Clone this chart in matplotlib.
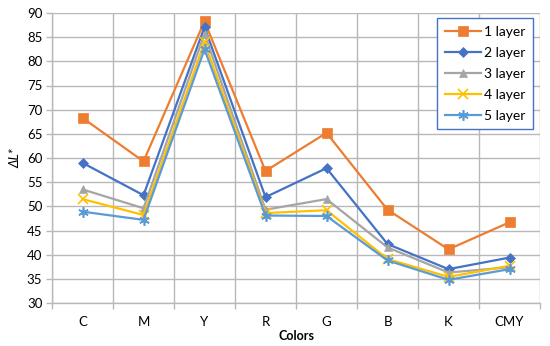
import matplotlib
matplotlib.use("Agg")
import matplotlib.pyplot as plt
import numpy as np

categories = ["C", "M", "Y", "R", "G", "B", "K", "CMY"]
layer1 = [68.3, 59.3, 88.3, 57.3, 65.2, 49.3, 41.1, 46.7]
layer2 = [59.0, 52.3, 87.1, 51.9, 57.9, 42.2, 37.0, 39.4]
layer3 = [53.5, 49.6, 85.7, 49.3, 51.5, 41.5, 36.3, 37.4]
layer4 = [51.5, 48.2, 83.9, 48.6, 49.2, 39.1, 35.4, 37.7]
layer5 = [48.9, 47.2, 82.5, 48.1, 48.0, 38.8, 34.8, 37.0]
labels = ["1 layer", "2 layer", "3 layer", "4 layer", "5 layer"]

plt.rcParams['font.family'] = ['Lato', 'DejaVu Sans']

fig = plt.figure(figsize=(5.5, 3.46), dpi=100)
ax = fig.add_axes([52/550, 1-303/346, (540-52)/550, (303-13)/346])

x = np.arange(len(categories))
series = [layer1, layer2, layer3, layer4, layer5]
colors = ["#ED7D31", "#4472C4", "#A5A5A5", "#FFC000", "#5B9BD5"]
markers = ["s", "D", "^", "x", (6, 2, 0)]
msizes = [6.5, 5, 6, 7, 7.5]
for s, c, m, ms, lab in zip(series, colors, markers, msizes, labels):
    ax.plot(x, s, color=c, lw=1.6, marker=m, ms=ms, mew=1.2 if m in ("x",) or isinstance(m, tuple) else 0.5,
            mec=c, mfc=c, label=lab)

ax.set_xlim(-0.5, len(categories) - 0.5)
ax.set_ylim(30, 90)
ax.set_yticks(np.arange(30, 91, 5))
ax.set_xticks(x)
ax.set_xticklabels(categories)
ax.set_xticks(np.arange(-0.5, len(categories), 1), minor=True)
ax.grid(True, which="minor", axis="x", color="#b8b8b8", lw=1.0)
ax.grid(True, which="major", axis="y", color="#b8b8b8", lw=1.0)
ax.set_axisbelow(True)
for sp in ["top", "right"]:
    ax.spines[sp].set_visible(False)
for sp in ["left", "bottom"]:
    ax.spines[sp].set_color("#b8b8b8")
    ax.spines[sp].set_linewidth(1.0)
ax.tick_params(axis="x", which="major", length=0, labelsize=9.5, pad=9)
ax.tick_params(axis="x", which="minor", length=4, color="#b8b8b8", width=1.0)
ax.tick_params(axis="y", which="major", length=4, color="#b8b8b8", width=1.0, labelsize=9.5, pad=3)

ax.set_xlabel("Colors", fontsize=9, fontweight="bold", labelpad=2)
ax.set_ylabel("ΔL*", fontsize=9.5, style="italic", labelpad=4)

leg = ax.legend(loc="upper right", bbox_to_anchor=((533-52)/488, (303-18)/290), borderaxespad=0,
                fontsize=10, frameon=True,
                fancybox=False, edgecolor="#4472C4", framealpha=1, handlelength=2.6,
                labelspacing=0.65, borderpad=0.55, handletextpad=0.2)
leg.get_frame().set_linewidth(1.0)

fig.savefig("out.png", dpi=100)
